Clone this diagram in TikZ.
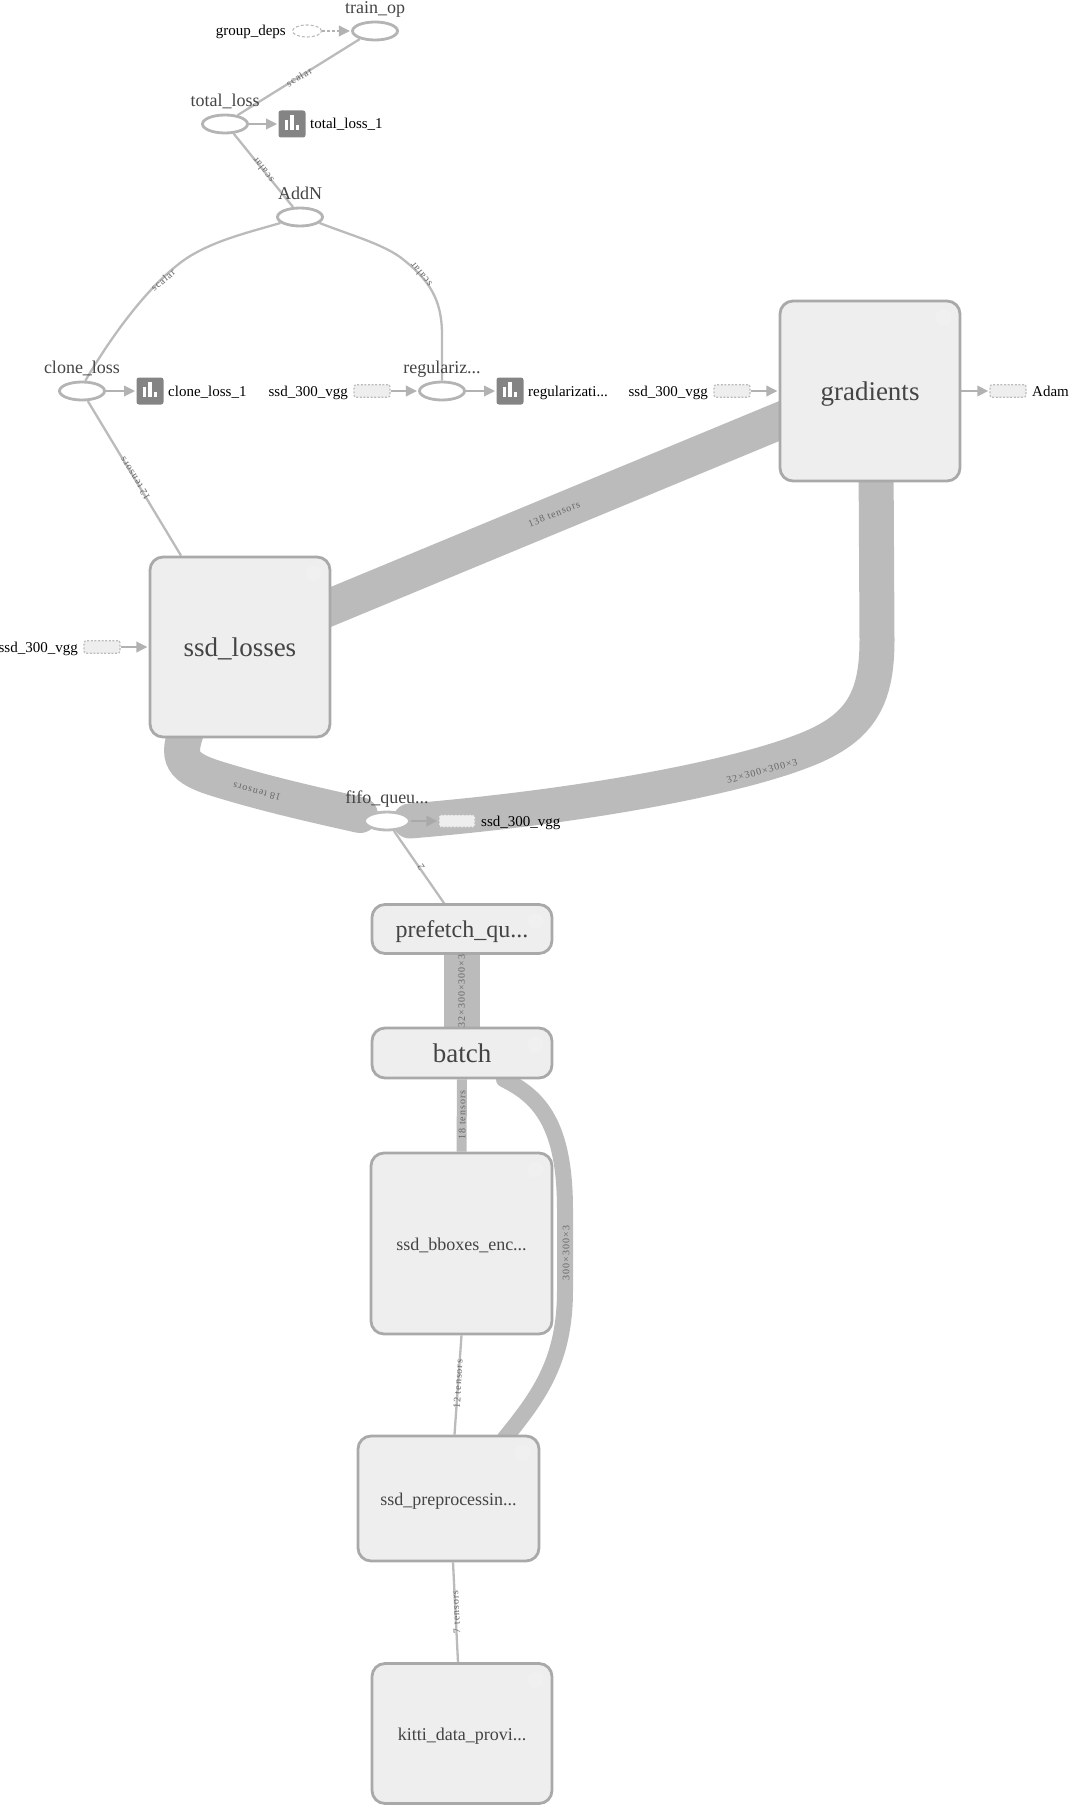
\documentclass[tikz,border=0pt]{standalone}
\usepackage{fontspec}
\setmainfont{Liberation Serif}
\newfontfamily\edgefont[LetterSpace=10]{Liberation Serif}
\usetikzlibrary{arrows.meta,shapes.geometric}
\pgfdeclarelayer{bg}
\pgfsetlayers{bg,main}
\definecolor{edgecol}{HTML}{BBBBBB}
\definecolor{arrowcol}{HTML}{B2B2B2}
\definecolor{opline}{HTML}{B4B4B4}
\definecolor{boxline}{HTML}{A9A9A9}
\definecolor{boxfill}{HTML}{EEEEEE}
\definecolor{markfill}{HTML}{F0F0F0}
\definecolor{titlecol}{HTML}{444444}
\definecolor{iconcol}{HTML}{848484}
\tikzset{
  opnode/.style={ellipse,draw=opline,fill=white,line width=2.8pt,inner sep=0pt,minimum width=45pt,minimum height=18pt},
  faintop/.style={ellipse,draw=edgecol,densely dashed,fill=white,line width=1.1pt,inner sep=0pt,minimum width=29pt,minimum height=12pt},
  stub/.style={rectangle,rounded corners=2pt,draw=edgecol,dash pattern=on 2pt off 1.6pt,fill=boxfill,line width=1.1pt,inner sep=0pt,minimum width=36pt,minimum height=12.5pt},
  groupbox/.style={rectangle,rounded corners=13pt,draw=boxline,fill=boxfill,line width=2.8pt,inner sep=0pt,minimum width=180pt,text=titlecol},
  big text/.style={font=\fontsize{27}{27}\selectfont,text height=19.4pt,text depth=0pt},
  mid text/.style={font=\fontsize{24}{24}\selectfont,text height=17.3pt,text depth=0pt},
  low text/.style={font=\fontsize{18}{18}\selectfont,text height=13pt,text depth=0pt},
  iconbox/.style={rectangle,rounded corners=2.5pt,fill=iconcol,inner sep=0pt,minimum width=27pt,minimum height=27pt},
  optitle/.style={font=\fontsize{18}{18}\selectfont,text=titlecol,inner sep=0pt,text height=13pt,text depth=0pt},
  sidetext/.style={font=\fontsize{15}{15}\selectfont,text=black,inner sep=0pt,text height=10pt,text depth=0pt},
  edgetext/.style={font=\edgefont\fontsize{10}{10}\selectfont,text=black!60,inner sep=0pt},
  thin edge/.style={draw=edgecol,line width=2.3pt},
  thick edge/.style={draw=edgecol,line cap=round},
  side arrow/.style={draw=arrowcol,line width=2.2pt,shorten >=1.2pt,-{Triangle[length=11pt,width=10.5pt]}},
}
\newcommand{\sumicon}[3]{%
  \node[iconbox] (#1) at (#2,#3) {};
  \begin{scope}[shift={(#2,#3)}]
    \fill[white] (-7.2,6.4) rectangle (-3.9,-3.8);
    \fill[white] (-1.6,6.4) rectangle (1.6,-8.6);
    \fill[white] (4.2,6.4) rectangle (7.4,0.6);
  \end{scope}}
\begin{document}
\begin{tikzpicture}[x=1pt,y=-1pt]
\useasboundingbox (0,0) rectangle (1069,1806);
% operation nodes
\node[opnode] (trainop) at (375,31) {};
\node[faintop] (groupdeps) at (307,31) {};
\node[opnode] (totalloss) at (225,124) {};
\node[opnode] (addn) at (300,217) {};
\node[opnode] (cloneloss) at (82,391) {};
\node[opnode] (regular) at (442,391) {};
\node[opnode,draw=edgecol] (fifo) at (387,821) {};
% titles
\node[optitle] (t1) at (375,7) {train\_op};
\node[optitle] (t2) at (225,100) {total\_loss};
\node[optitle] (t3) at (300,193) {AddN};
\node[optitle] (t4) at (82,367) {clone\_loss};
\node[optitle] (t5) at (442,367) {regulariz...};
\node[optitle] (t6) at (387,797) {fifo\_queu...};
% side text
\node[sidetext,anchor=east] (s1) at (286,31) {group\_deps};
\node[sidetext,anchor=west] (s2) at (310,124) {total\_loss\_1};
\node[sidetext,anchor=west] (s3) at (168,391) {clone\_loss\_1};
\node[sidetext,anchor=east] (s4) at (348,391) {ssd\_300\_vgg};
\node[sidetext,anchor=west] (s5) at (528,391) {regularizati...};
\node[sidetext,anchor=east] (s6) at (708,391) {ssd\_300\_vgg};
\node[sidetext,anchor=west] (s7) at (1032,391) {Adam};
\node[sidetext,anchor=east] (s8) at (78,647) {ssd\_300\_vgg};
\node[sidetext,anchor=west] (s9) at (481,821) {ssd\_300\_vgg};
% stubs
\node[stub] (st1) at (372,391) {};
\node[stub] (st2) at (732,391) {};
\node[stub] (st3) at (1008,391) {};
\node[stub] (st4) at (102,647) {};
\node[stub] (st5) at (457,821) {};
% summary icons
\sumicon{ic1}{292}{124}
\sumicon{ic2}{150}{391}
\sumicon{ic3}{510}{391}
% group boxes
\node[groupbox,minimum height=180pt,big text] (gradients) at (870,391) {gradients};
\node[groupbox,minimum height=180pt,big text] (losses) at (240,647) {ssd\_losses};
\node[groupbox,minimum height=49pt,mid text] (prefetch) at (462,929) {prefetch\_qu...};
\node[groupbox,minimum height=50pt,big text] (batch) at (462,1053) {batch};
\node[groupbox,minimum height=181pt,minimum width=181pt,low text] (bboxes) at (461.5,1243.5) {ssd\_bboxes\_enc...};
\node[groupbox,minimum height=125pt,minimum width=181pt,low text] (preproc) at (448.5,1498.5) {ssd\_preprocessin...};
\node[groupbox,minimum height=140pt,low text] (kitti) at (462,1733.5) {kitti\_data\_provi...};
% faint expand marks
\foreach \b in {gradients,losses,prefetch,batch,bboxes,preproc,kitti}
  \fill[markfill] ([xshift=-18pt,yshift=-18pt]\b.north east) circle (8pt);
% connectors
\begin{pgfonlayer}{bg}
\draw[thin edge] (totalloss.35) -- (trainop.208);
\draw[thin edge] (totalloss.-48) -- (addn.125);
\draw[thin edge] (cloneloss.72) .. controls (112,335) and (150,283) .. (187,258) .. controls (215,240) and (250,232) .. (addn.197);
\draw[thin edge] (regular.north) -- (442,335) .. controls (442,300) and (430,280) .. (400,257) .. controls (380,243) and (350,235) .. (addn.-17);
\draw[thin edge] (cloneloss.-60) -- ([xshift=-59pt]losses.north);
\draw[thin edge] (fifo.-55) -- ([xshift=-18pt]prefetch.north);
\draw[thin edge] (bboxes.south) -- ([xshift=6pt]preproc.north);
\draw[thin edge] ([xshift=4.5pt]preproc.south) -- ([xshift=-4pt]kitti.north);
\draw[thick edge,line width=37pt,line cap=butt] ([xshift=-20pt,yshift=32pt]losses.east) -- ([xshift=20pt,yshift=-22pt]gradients.west);
\draw[thick edge,line width=35pt] ([xshift=6pt,yshift=25pt]gradients.south) -- (877,640) .. controls (877,700) and (860,730) .. (800,752) .. controls (740,775) and (600,805) .. ([xshift=23pt]fifo.center);
\draw[thick edge,line width=36pt] ([xshift=-52pt,yshift=12pt]losses.south) .. controls (176,758) and (180,768) .. (221,780) .. controls (270,795) and (320,806) .. ([xshift=-27pt,yshift=6pt]fifo.center);
\draw[thick edge,line width=36pt,line cap=butt] (prefetch.south) -- (batch.north);
\draw[thick edge,line width=10pt,line cap=butt] (batch.south) -- (bboxes.north);
\draw[thick edge,line width=16pt] ([xshift=42pt]batch.south) .. controls (540,1097) and (565,1125) .. (565,1210) -- (565,1290) .. controls (565,1360) and (540,1395) .. ([xshift=56pt,yshift=-4pt]preproc.north);
% side arrows
\draw[side arrow,densely dashed] (groupdeps.east) -- (trainop.west);
\draw[side arrow] (totalloss.east) -- (ic1.west);
\draw[side arrow] (cloneloss.east) -- (ic2.west);
\draw[side arrow] (st1.east) -- (regular.west);
\draw[side arrow] (regular.east) -- (ic3.west);
\draw[side arrow] (st2.east) -- (gradients.west);
\draw[side arrow] (gradients.east) -- (st3.west);
\draw[side arrow] (st4.east) -- (losses.west);
\end{pgfonlayer}
\draw[side arrow,draw=boxline] (fifo.east) -- (st5.west);
% edge labels
\node[edgetext,rotate=32] (e1) at (299,77) {scalar};
\node[edgetext,rotate=128] (e2) at (263,170) {scalar};
\node[edgetext,rotate=40] (e3) at (163,280) {scalar};
\node[edgetext,rotate=130] (e4) at (421,275) {scalar};
\node[edgetext,rotate=122] (e5) at (135,479) {12 tensors};
\node[edgetext,rotate=22] (e6) at (554,514) {138 tensors};
\node[edgetext,rotate=165.5] (e7) at (257,792) {18 tensors};
\node[edgetext,rotate=15] (e8) at (762,771) {32×300×300×3};
\node[edgetext,rotate=123] (e9) at (421,867) {2};
\node[edgetext,rotate=90] (e10) at (461.5,991) {32×300×300×3};
\node[edgetext,rotate=90] (e11) at (462,1115) {18 tensors};
\node[edgetext,rotate=90] (e12) at (566,1253) {300×300×3};
\node[edgetext,rotate=87] (e13) at (458,1384) {12 tensors};
\node[edgetext,rotate=93] (e14) at (456,1612) {7 tensors};
\end{tikzpicture}
\end{document}
